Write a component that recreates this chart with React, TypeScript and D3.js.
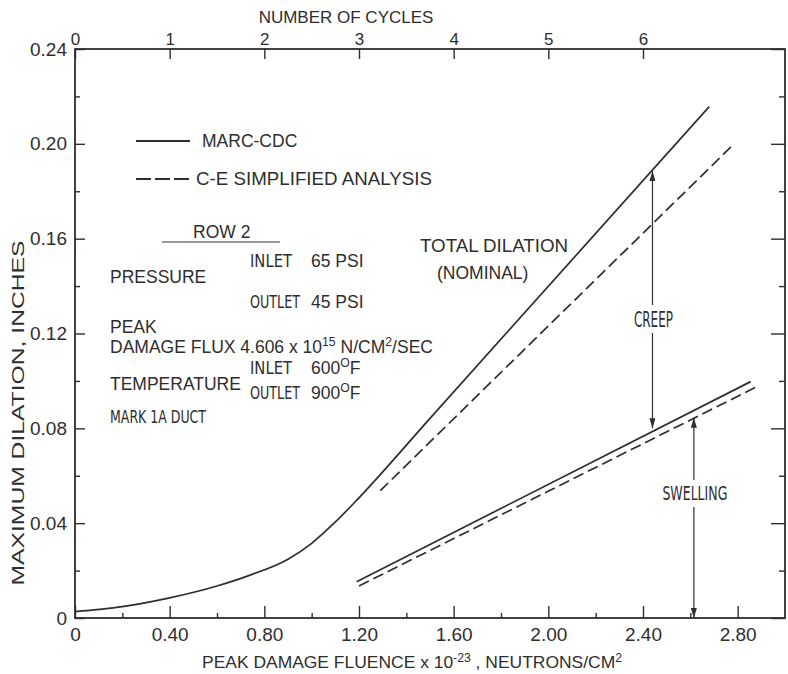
import React, { useEffect, useRef } from "react";
import * as d3 from "d3";

const W = 788;
const H = 674;
const INK = "#2e2e2e";
const FONT = "'Liberation Sans', Arial, sans-serif";
const NARROW = "'Liberation Sans Narrow', 'DejaVu Sans Condensed', sans-serif";

// peak damage fluence (x 10^23 n/cm2) vs maximum dilation (in)
const marcTotal: [number, number][] = [
  [0, 0.0027], [0.2, 0.0048], [0.4, 0.0085], [0.6, 0.0135], [0.74, 0.0181],
  [0.9, 0.0248], [1.0, 0.0315], [1.1, 0.0405], [1.2, 0.0507], [1.5, 0.0842],
  [2.68, 0.2157],
];
const ceTotal: [number, number][] = [[1.29, 0.0537], [2.78, 0.1995]];
const marcSwelling: [number, number][] = [[1.19, 0.0153], [2.855, 0.0997]];
const ceSwelling: [number, number][] = [[1.2, 0.0135], [2.876, 0.0973]];

const creep = { x: 2.44, from: 0.08, to: 0.1885 };
const swelling = { x: 2.615, from: 0, to: 0.0845 };

const fluenceTicks = [0, 0.4, 0.8, 1.2, 1.6, 2.0, 2.4, 2.8];
const fluenceLabels = ["0", "0.40", "0.80", "1.20", "1.60", "2.00", "2.40", "2.80"];
const fluenceMinor = [0.2, 0.6, 1.0, 1.4, 1.8, 2.2, 2.6];
const dilationTicks = [0, 0.04, 0.08, 0.12, 0.16, 0.2, 0.24];
const dilationLabels = ["0", "0.04", "0.08", "0.12", "0.16", "0.20", "0.24"];
const dilationMinor = [0.02, 0.06, 0.1, 0.14, 0.18, 0.22];
const cycleTicks = [0, 1, 2, 3, 4, 5, 6];

type Part = string | { sup: string };

function label(g: any, px: number, py: number, parts: Part[], size = 17.5, anchor = "start", family = FONT) {
  const t = g.append("text")
    .attr("x", px).attr("y", py)
    .attr("font-family", family).attr("font-size", size)
    .attr("fill", INK).attr("text-anchor", anchor);
  let raised = false;
  parts.forEach(p => {
    if (typeof p === "string") {
      t.append("tspan").attr("dy", raised ? size * 0.38 : 0).text(p);
      raised = false;
    } else {
      t.append("tspan").attr("dy", -size * 0.38).attr("font-size", size * 0.7).text(p.sup);
      raised = true;
    }
  });
  return t;
}

function squeeze(t: any, len: number) {
  return t.attr("textLength", len).attr("lengthAdjust", "spacingAndGlyphs");
}

function draw(svg: any) {
  const x = d3.scaleLinear().domain([0, 3]).range([75, 785]);
  const y = d3.scaleLinear().domain([0, 0.24]).range([618, 49]);
  const cyc = d3.scaleLinear().domain([0, 7.5]).range([75, 785]);

  svg.append("rect").attr("width", W).attr("height", H).attr("fill", "#fff");

  const style = (g: any, size: number) => {
    g.select(".domain").remove();
    g.selectAll("line").attr("stroke", INK).attr("stroke-width", 1.4);
    g.selectAll("text").attr("font-family", FONT).attr("font-size", size).attr("fill", INK);
  };

  // bottom
  svg.append("g").attr("transform", "translate(0,618)")
    .call(d3.axisBottom(x).tickValues(fluenceTicks).tickSize(-12).tickPadding(10)
      .tickFormat((d: any, i: number) => fluenceLabels[i]))
    .call((g: any) => style(g, 19));
  svg.append("g").attr("transform", "translate(0,618)")
    .call(d3.axisBottom(x).tickValues(fluenceMinor).tickSize(-5).tickFormat(() => ""))
    .call((g: any) => style(g, 19));
  // left
  svg.append("g").attr("transform", "translate(75,0)")
    .call(d3.axisLeft(y).tickValues(dilationTicks).tickSize(-10).tickPadding(8)
      .tickFormat((d: any, i: number) => dilationLabels[i]))
    .call((g: any) => style(g, 19));
  svg.append("g").attr("transform", "translate(75,0)")
    .call(d3.axisLeft(y).tickValues(dilationMinor).tickSize(-5).tickFormat(() => ""))
    .call((g: any) => style(g, 19));
  // right
  svg.append("g").attr("transform", "translate(785,0)")
    .call(d3.axisRight(y).tickValues(dilationTicks).tickSize(-14).tickFormat(() => ""))
    .call((g: any) => style(g, 19));
  svg.append("g").attr("transform", "translate(785,0)")
    .call(d3.axisRight(y).tickValues(dilationMinor).tickSize(-6).tickFormat(() => ""))
    .call((g: any) => style(g, 19));
  // top: cycles
  svg.append("g").attr("transform", "translate(0,49)")
    .call(d3.axisTop(cyc).tickValues(cycleTicks).tickSize(-10).tickPadding(4))
    .call((g: any) => style(g, 17));

  svg.append("rect").attr("x", 75).attr("y", 49).attr("width", 710).attr("height", 569)
    .attr("fill", "none").attr("stroke", INK).attr("stroke-width", 1.8);

  // axis titles
  label(svg, 346, 23, ["NUMBER OF CYCLES"], 17, "middle");
  squeeze(label(svg, 412, 668, ["PEAK DAMAGE FLUENCE x 10", { sup: "-23" }, " , NEUTRONS/CM", { sup: "2" }], 17, "middle"), 420);
  squeeze(svg.append("text")
    .attr("transform", "translate(24,413) rotate(-90)")
    .attr("text-anchor", "middle").attr("font-family", FONT).attr("font-size", 17)
    .attr("fill", INK)
    .text("MAXIMUM DILATION, INCHES"), 345);

  // curves
  const line = d3.line<[number, number]>().x(d => x(d[0])).y(d => y(d[1])).curve(d3.curveMonotoneX);
  const curves: [[number, number][], boolean][] = [
    [marcTotal, false], [ceTotal, true], [marcSwelling, false], [ceSwelling, true],
  ];
  curves.forEach(([data, dashed]) => {
    svg.append("path").datum(data).attr("d", line)
      .attr("fill", "none").attr("stroke", INK).attr("stroke-width", 1.7)
      .attr("stroke-dasharray", dashed ? "11,5" : null);
  });

  // legend
  svg.append("line").attr("x1", 136).attr("x2", 190).attr("y1", 141).attr("y2", 141)
    .attr("stroke", INK).attr("stroke-width", 1.8);
  svg.append("line").attr("x1", 136).attr("x2", 190).attr("y1", 179).attr("y2", 179)
    .attr("stroke", INK).attr("stroke-width", 2.2).attr("stroke-dasharray", "15,4");
  label(svg, 202, 147, ["MARC-CDC"]);
  squeeze(label(svg, 196, 185, ["C-E SIMPLIFIED ANALYSIS"]), 236);

  // conditions block
  label(svg, 193, 238, ["ROW 2"]);
  svg.append("line").attr("x1", 162).attr("x2", 280).attr("y1", 242).attr("y2", 242)
    .attr("stroke", "#777").attr("stroke-width", 1.5);
  squeeze(label(svg, 250, 267, ["INLET"], 17, "start", NARROW), 42);
  label(svg, 311, 267, ["65 PSI"]);
  label(svg, 110, 283, ["PRESSURE"]);
  squeeze(label(svg, 250, 308, ["OUTLET"], 17, "start", NARROW), 50);
  label(svg, 311, 308, ["45 PSI"]);
  label(svg, 110, 333, ["PEAK"]);
  label(svg, 110, 353, ["DAMAGE FLUX 4.606 x 10", { sup: "15" }, " N/CM", { sup: "2" }, "/SEC"]);
  squeeze(label(svg, 250, 374, ["INLET"], 17, "start", NARROW), 42);
  label(svg, 311, 374, ["600", { sup: "O" }, "F"]);
  label(svg, 110, 390, ["TEMPERATURE"]);
  squeeze(label(svg, 250, 399, ["OUTLET"], 17, "start", NARROW), 50);
  label(svg, 311, 399, ["900", { sup: "O" }, "F"]);
  squeeze(label(svg, 110, 423, ["MARK 1A DUCT"], 18, "start", NARROW), 96);

  squeeze(label(svg, 420, 252, ["TOTAL DILATION"]), 148);
  label(svg, 437, 279, ["(NOMINAL)"]);

  // arrows
  const defs = svg.append("defs");
  defs.append("marker").attr("id", "head").attr("viewBox", "0 0 10 6")
    .attr("refX", 10).attr("refY", 3).attr("markerWidth", 10).attr("markerHeight", 6)
    .attr("markerUnits", "userSpaceOnUse").attr("orient", "auto")
    .append("path").attr("d", "M0,0L10,3L0,6Z").attr("fill", INK);

  const arrow = (px: number, y1: number, y2: number) =>
    svg.append("line").attr("x1", px).attr("x2", px).attr("y1", y1).attr("y2", y2)
      .attr("stroke", INK).attr("stroke-width", 1.2).attr("marker-end", "url(#head)");

  const cx = x(creep.x);
  arrow(cx, 305, y(creep.to));
  arrow(cx, 333, y(creep.from));
  squeeze(label(svg, cx + 1, 327, ["CREEP"], 21, "middle", NARROW), 39);

  const sx = x(swelling.x);
  arrow(sx, 480, y(swelling.to));
  arrow(sx, 507, y(swelling.from));
  squeeze(label(svg, sx + 1, 500, ["SWELLING"], 20, "middle", NARROW), 65);
}

export default function App() {
  const ref = useRef<SVGSVGElement>(null);
  useEffect(() => {
    const svg = d3.select(ref.current);
    svg.selectAll("*").remove();
    draw(svg);
  }, []);
  return (
    <svg ref={ref} width={W} height={H}
      style={{ position: "absolute", left: 0, top: 0, display: "block" }} />
  );
}
